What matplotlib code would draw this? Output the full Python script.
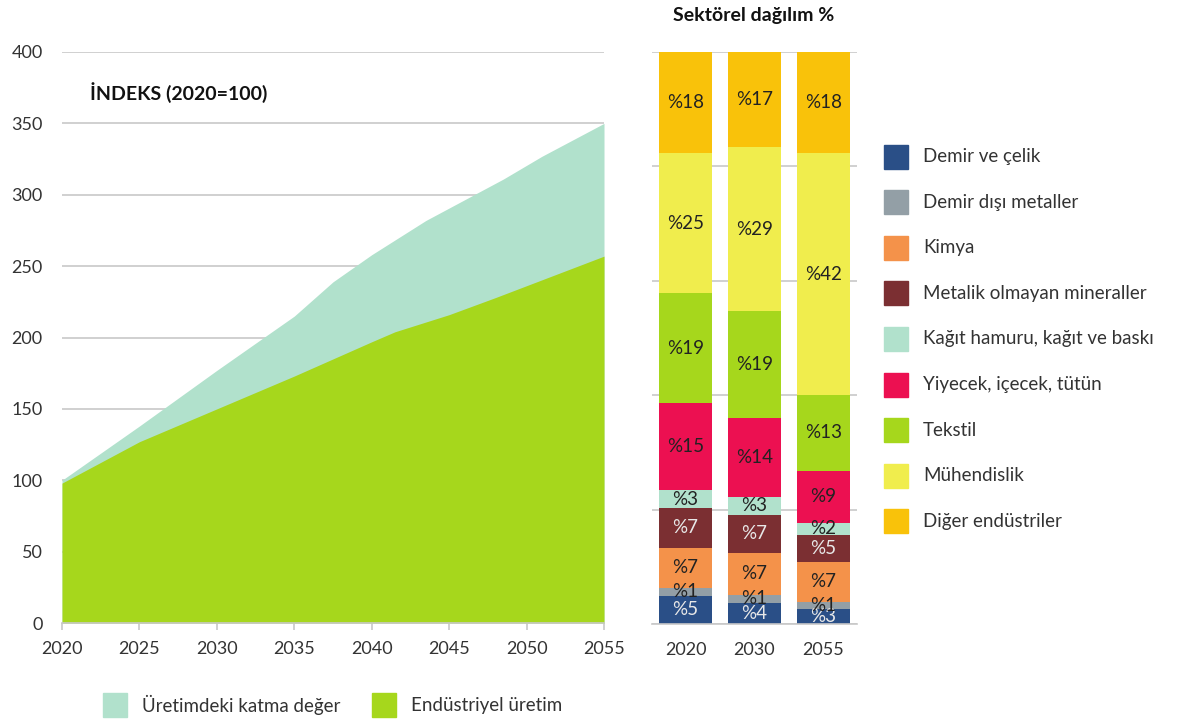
import matplotlib.pyplot as plt
import numpy as np

plt.rcParams['font.family'] = ['Lato', 'DejaVu Sans']

# index series (2020=100)
katma_years = [2020, 2025, 2030, 2035, 2037.5, 2040, 2043.5, 2048.5, 2051, 2055]
katma_values = [100, 138, 177, 215, 239, 258, 282, 311, 327, 350]
uretim_years = [2020, 2025, 2030, 2035, 2040, 2041.5, 2045, 2048, 2055]
uretim_values = [98, 127, 150, 173, 197, 204, 216, 228, 257]

# sector shares, %
bar_years = ['2020', '2030', '2055']
sectors = ['Demir ve çelik', 'Demir dışı metaller', 'Kimya', 'Metalik olmayan mineraller',
           'Kağıt hamuru, kağıt ve baskı', 'Yiyecek, içecek, tütün', 'Tekstil',
           'Mühendislik', 'Diğer endüstriler']
shares = {
    '2020': [4.9, 1.4, 7.0, 7.0, 3.1, 15.2, 19.2, 24.6, 17.6],
    '2030': [3.7, 1.4, 7.4, 6.6, 3.1, 13.8, 18.7, 28.7, 16.6],
    '2055': [2.6, 1.3, 6.9, 4.8, 2.1, 9.1, 13.2, 42.3, 17.7],
}
sector_colors = ['#2a4f87', '#939fa6', '#f4924a', '#7b2f32', '#b1e1cc',
                 '#ec1051', '#a6d71c', '#f0ed4d', '#f9c20a']
label_colors = ['#e8e8e8', '#222222', '#222222', '#e8e8e8', '#222222',
                '#222222', '#222222', '#222222', '#222222']

mint = '#b1e1cc'
green = '#a6d71c'
grid = '#c8c8c8'
txt = '#333333'

fig = plt.figure(figsize=(11.81, 7.2), dpi=100)

# left: area chart
ax = fig.add_axes([62 / 1181, 97 / 720, 542 / 1181, 571 / 720])
ax.fill_between(katma_years, 0, katma_values, color=mint, linewidth=0, zorder=2)
ax.fill_between(uretim_years, 0, uretim_values, color=green, linewidth=0, zorder=3)
ax.set_xlim(2020, 2055)
ax.set_ylim(0, 400)
ax.set_yticks(range(0, 401, 50))
ax.set_xticks(range(2020, 2056, 5))
ax.grid(axis='y', color=grid, linewidth=1.2, zorder=1)
ax.set_axisbelow(True)
for s in ['left', 'right', 'top']:
    ax.spines[s].set_visible(False)
ax.spines['bottom'].set_color(grid)
ax.spines['bottom'].set_linewidth(1.2)
ax.spines['bottom'].set_zorder(4)
ax.tick_params(axis='y', length=0, pad=14, labelsize=13, labelcolor=txt)
ax.tick_params(axis='x', length=5, color=grid, width=1.2, pad=8, labelsize=13, labelcolor=txt)
fig.text(90 / 1181, (720 - 93) / 720, 'İNDEKS (2020=100)',
         fontsize=14, fontweight='bold', color='#111111', va='center', ha='left')

# bottom legend for the area chart
for x0, col, name in [(103, mint, 'Üretimdeki katma değer'), (372, green, 'Endüstriyel üretim')]:
    fig.patches.append(plt.Rectangle((x0 / 1181, 3 / 720), 24 / 1181, 24 / 720,
                                     transform=fig.transFigure, color=col))
    fig.text((x0 + 39) / 1181, 15 / 720, name, fontsize=13.5,
             color=txt, va='center', ha='left')

# right: stacked bars
bx = fig.add_axes([652 / 1181, 96 / 720, 205 / 1181, 572 / 720])
pos = np.arange(len(bar_years))
bottom = np.zeros(len(bar_years))
for i, name in enumerate(sectors):
    vals = np.array([shares[y][i] for y in bar_years])
    bx.bar(pos, vals, width=0.77, bottom=bottom, color=sector_colors[i], zorder=2)
    for p, v, b in zip(pos, vals, bottom):
        bx.text(p, b + v / 2, '%' + str(int(round(v))), ha='center', va='center',
                fontsize=13.5, color=label_colors[i], zorder=3)
    bottom += vals
bx.set_xlim(-0.486, 2.486)
bx.set_ylim(0, 100)
bx.set_yticks(range(0, 101, 20))
bx.set_yticklabels([])
bx.set_xticks(pos)
bx.set_xticklabels(bar_years)
bx.grid(axis='y', color=grid, linewidth=1.2, zorder=1)
bx.set_axisbelow(True)
for s in ['left', 'right', 'top']:
    bx.spines[s].set_visible(False)
bx.spines['bottom'].set_color(grid)
bx.spines['bottom'].set_linewidth(1.2)
bx.tick_params(axis='y', length=0)
bx.tick_params(axis='x', length=0, pad=13, labelsize=13, labelcolor=txt)
fig.text(754 / 1181, 705 / 720, 'Sektörel dağılım %', fontsize=14, fontweight='bold',
         color='#111111', ha='center', va='center')

# right legend
for i, name in enumerate(sectors):
    yc = 156.5 + 45.6 * i
    fig.patches.append(plt.Rectangle((884 / 1181, (720 - yc - 12) / 720), 24 / 1181, 24 / 720,
                                     transform=fig.transFigure, color=sector_colors[i]))
    fig.text(923 / 1181, (720 - yc) / 720, name, fontsize=13.5,
             color=txt, va='center', ha='left')

fig.savefig('out.png', dpi=100)
